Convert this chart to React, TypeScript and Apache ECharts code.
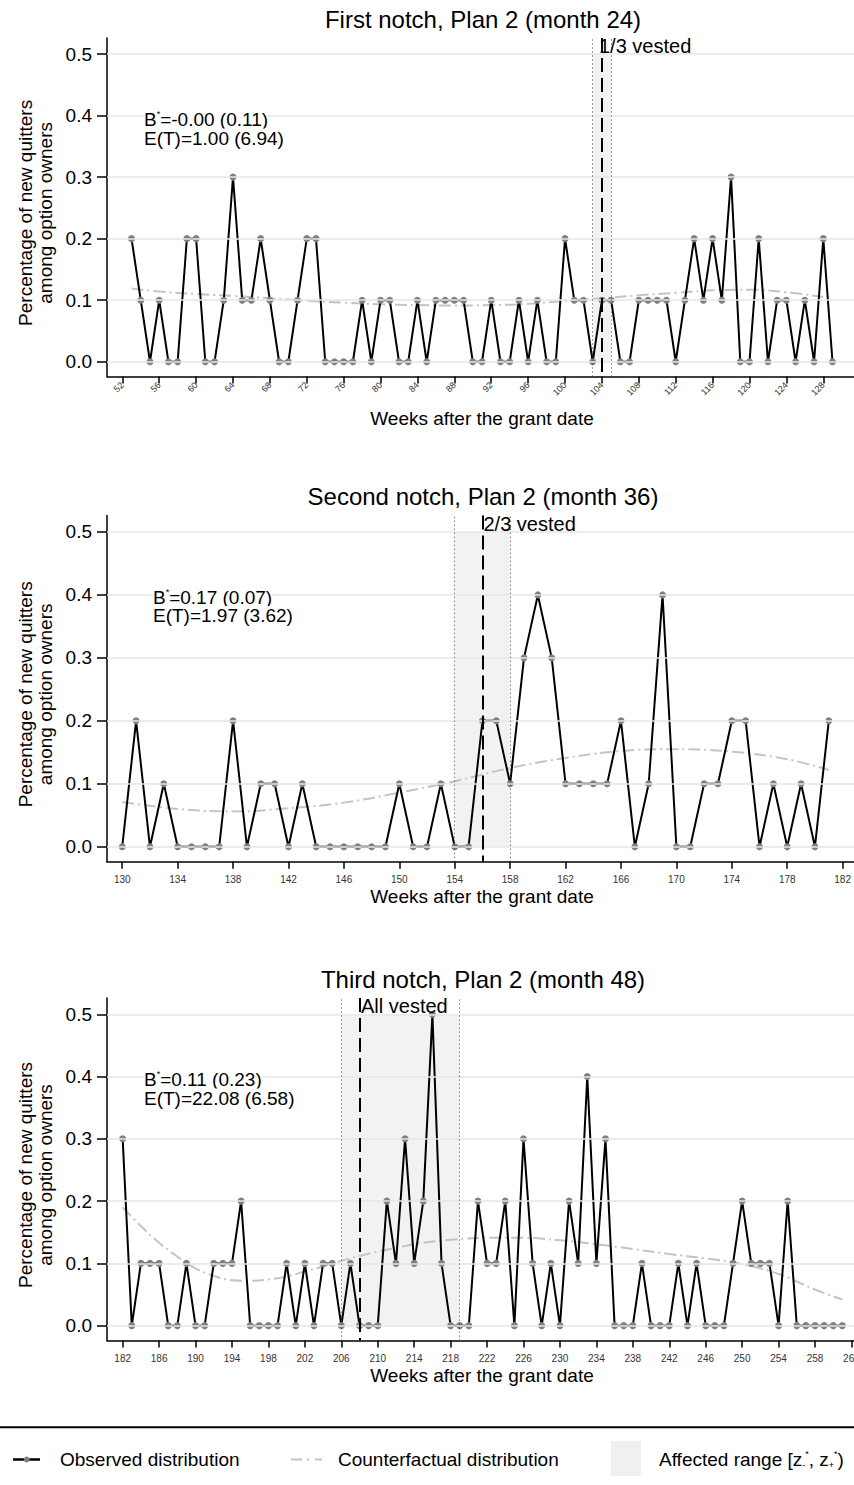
import React, { useEffect, useRef } from "react";
import * as echarts from "echarts";

const FONT = '"Liberation Sans", Arial, Helvetica, sans-serif';

// ---------- data ----------
const panelTitles = [
  "First notch, Plan 2 (month 24)",
  "Second notch, Plan 2 (month 36)",
  "Third notch, Plan 2 (month 48)",
];
const vestLabels = ["1/3 vested", "2/3 vested", "All vested"];
const statB = ["-0.00 (0.11)", "0.17 (0.07)", "0.11 (0.23)"];
const statE = ["1.00 (6.94)", "1.97 (3.62)", "22.08 (6.58)"];
const vestWeeks = [104, 156, 208];
const affectedRanges = [
  [103, 105],
  [154, 158],
  [206, 219],
];

const obs1Start = 53;
const obs1Values = [
  0.2, 0.1, 0, 0.1, 0, 0, 0.2, 0.2, 0, 0,
  0.1, 0.3, 0.1, 0.1, 0.2, 0.1, 0, 0, 0.1, 0.2,
  0.2, 0, 0, 0, 0, 0.1, 0, 0.1, 0.1, 0,
  0, 0.1, 0, 0.1, 0.1, 0.1, 0.1, 0, 0, 0.1,
  0, 0, 0.1, 0, 0.1, 0, 0, 0.2, 0.1, 0.1,
  0, 0.1, 0.1, 0, 0, 0.1, 0.1, 0.1, 0.1, 0,
  0.1, 0.2, 0.1, 0.2, 0.1, 0.3, 0, 0, 0.2, 0,
  0.1, 0.1, 0, 0.1, 0, 0.2, 0,
];
const obs2Start = 130;
const obs2Values = [
  0, 0.2, 0, 0.1, 0, 0, 0, 0, 0.2, 0,
  0.1, 0.1, 0, 0.1, 0, 0, 0, 0, 0, 0,
  0.1, 0, 0, 0.1, 0, 0, 0.2, 0.2, 0.1, 0.3,
  0.4, 0.3, 0.1, 0.1, 0.1, 0.1, 0.2, 0, 0.1, 0.4,
  0, 0, 0.1, 0.1, 0.2, 0.2, 0, 0.1, 0, 0.1,
  0, 0.2,
];
const obs3Start = 182;
const obs3Values = [
  0.3, 0, 0.1, 0.1, 0.1, 0, 0, 0.1, 0, 0,
  0.1, 0.1, 0.1, 0.2, 0, 0, 0, 0, 0.1, 0,
  0.1, 0, 0.1, 0.1, 0, 0.1, 0, 0, 0, 0.2,
  0.1, 0.3, 0.1, 0.2, 0.5, 0.1, 0, 0, 0, 0.2,
  0.1, 0.1, 0.2, 0, 0.3, 0.1, 0, 0.1, 0, 0.2,
  0.1, 0.4, 0.1, 0.3, 0, 0, 0, 0.1, 0, 0,
  0, 0.1, 0, 0.1, 0, 0, 0, 0.1, 0.2, 0.1,
  0.1, 0.1, 0, 0.2, 0, 0, 0, 0, 0, 0,
];

const cf1Weeks = [53, 56, 60, 64, 68, 72, 76, 80, 84, 88, 92, 96, 100, 104, 108, 112, 116, 120, 124, 128];
const cf1Values = [0.119, 0.114, 0.11, 0.107, 0.103, 0.099, 0.096, 0.0935, 0.092, 0.0914, 0.092, 0.094, 0.099, 0.103, 0.108, 0.112, 0.116, 0.117, 0.113, 0.105];
const cf2Weeks = [130, 134, 138, 142, 146, 150, 154, 158, 162, 166, 170, 174, 178, 181];
const cf2Values = [0.071, 0.06, 0.056, 0.061, 0.07, 0.086, 0.104, 0.125, 0.141, 0.152, 0.155, 0.151, 0.139, 0.122];
const cf3Weeks = [182, 184, 186, 188, 190, 192, 194, 196, 198, 200, 202, 204, 206, 208, 210, 212, 214, 216, 218, 222, 226, 230, 234, 238, 242, 246, 250, 254, 258, 261];
const cf3Values = [0.19, 0.16, 0.133, 0.111, 0.092, 0.08, 0.073, 0.072, 0.074, 0.079, 0.087, 0.095, 0.104, 0.112, 0.119, 0.125, 0.131, 0.135, 0.138, 0.141, 0.141, 0.137, 0.131, 0.123, 0.115, 0.108, 0.099, 0.083, 0.058, 0.042];

const xTicks1 = [52, 56, 60, 64, 68, 72, 76, 80, 84, 88, 92, 96, 100, 104, 108, 112, 116, 120, 124, 128];
const xTicks2 = [130, 134, 138, 142, 146, 150, 154, 158, 162, 166, 170, 174, 178, 182];
const xTicks3 = [182, 186, 190, 194, 198, 202, 206, 210, 214, 218, 222, 226, 230, 234, 238, 242, 246, 250, 254, 258, 262];
const yTicks = [0, 0.1, 0.2, 0.3, 0.4, 0.5];

const obsStarts = [obs1Start, obs2Start, obs3Start];
const obsValues = [obs1Values, obs2Values, obs3Values];
const cfWeeks = [cf1Weeks, cf2Weeks, cf3Weeks];
const cfValues = [cf1Values, cf2Values, cf3Values];
const xTicks = [xTicks1, xTicks2, xTicks3];

// ---------- layout ----------
const Y_MIN = -0.024;
const Y_MAX = 0.526;
const layout = [
  { top: 38, height: 338.5, xMin: 50.34, xMax: 131.33, rotate: 45, labelSize: 9, labelMargin: 7, xNameDy: 41.5, statX: 144, vestX: 599 },
  { top: 515.6, height: 346.2, xMin: 128.9, xMax: 182.82, rotate: 0, labelSize: 10, labelMargin: 13, xNameDy: 35, statX: 153, vestX: 483.5 },
  { top: 998.1, height: 342.5, xMin: 180.28, xMax: 262.28, rotate: 0, labelSize: 10, labelMargin: 13, xNameDy: 35, statX: 144, vestX: 361 },
];
const GRID_LEFT = 107;
const W = 854;
const H = 1485;

function buildOption() {
  const grids: any[] = [];
  const xAxes: any[] = [];
  const yAxes: any[] = [];
  const series: any[] = [];
  const graphic: any[] = [];
  const axisLineStyle = { color: "#000", width: 1.5 };

  layout.forEach((L, i) => {
    grids.push({ left: GRID_LEFT, right: 0, top: L.top, height: L.height, outerBoundsMode: "none", containLabel: false });
    xAxes.push({
      gridIndex: i,
      type: "value",
      min: L.xMin,
      max: L.xMax,
      axisLine: { show: true, onZero: false, lineStyle: axisLineStyle },
      axisTick: { show: true, customValues: xTicks[i], length: 7, lineStyle: axisLineStyle },
      axisLabel: {
        show: true,
        customValues: xTicks[i],
        rotate: L.rotate,
        fontSize: L.labelSize,
        color: "#333",
        fontFamily: FONT,
        margin: L.labelMargin,
        formatter: (v: number) => String(v),
      },
      splitLine: { show: false },
    });
    yAxes.push({
      gridIndex: i,
      type: "value",
      min: Y_MIN,
      max: Y_MAX,
      axisLine: { show: true, onZero: false, lineStyle: axisLineStyle },
      axisTick: { show: true, customValues: yTicks, length: 10, lineStyle: axisLineStyle },
      axisLabel: {
        show: true,
        customValues: yTicks,
        fontSize: 19,
        color: "#000",
        fontFamily: FONT,
        margin: 15,
        formatter: (v: number) => v.toFixed(1),
      },
      splitLine: { show: false },
    });

    // gridlines
    series.push({
      type: "line",
      xAxisIndex: i,
      yAxisIndex: i,
      data: [],
      silent: true,
      z: 1,
      markLine: {
        silent: true,
        symbol: ["none", "none"],
        label: { show: false },
        lineStyle: { color: "#e6e6e6", width: 1.5, type: "solid" },
        data: yTicks.map((v) => ({ yAxis: v })),
      },
    });

    const [a, b] = affectedRanges[i];
    const v = vestWeeks[i];
    const dotted = { type: [1, 3], color: "#444", width: 1 };
    series.push({
      type: "line",
      xAxisIndex: i,
      yAxisIndex: i,
      data: [],
      silent: true,
      clip: false,
      z: 2,
      markArea: {
        silent: true,
        itemStyle: { color: "#f2f2f2" },
        label: { show: false },
        data: [[{ coord: [a, 0] }, { coord: [b, 0.5] }]],
      },
      markLine: {
        silent: true,
        symbol: ["none", "none"],
        label: { show: false },
        data: [
          [{ coord: [a, Y_MIN], lineStyle: dotted }, { coord: [a, Y_MAX] }],
          [{ coord: [b, Y_MIN], lineStyle: dotted }, { coord: [b, Y_MAX] }],
          [
            { coord: [v, Y_MAX], lineStyle: { type: [14, 6], color: "#000", width: 2 } },
            { coord: [v, Y_MIN] },
          ],
        ],
      },
    });

    // counterfactual
    series.push({
      type: "line",
      name: "Counterfactual distribution",
      xAxisIndex: i,
      yAxisIndex: i,
      data: cfWeeks[i].map((w, k) => [w, cfValues[i][k]]),
      smooth: 0.4,
      symbol: "none",
      lineStyle: { color: "#c4c4c4", width: 2, type: [12, 4, 2, 4] },
      z: 3,
      silent: true,
    });

    // observed
    series.push({
      type: "line",
      name: "Observed distribution",
      xAxisIndex: i,
      yAxisIndex: i,
      data: obsValues[i].map((val, k) => [obsStarts[i] + k, val]),
      symbol: "circle",
      symbolSize: 7,
      showSymbol: true,
      itemStyle: { color: "#808080", borderWidth: 0 },
      lineStyle: { color: "#000", width: 2 },
      z: 4,
      silent: true,
    });

    const bottom = L.top + L.height;
    // panel title
    graphic.push({
      type: "text",
      x: 483,
      y: L.top - 19,
      style: { text: panelTitles[i], fontSize: 24, fontFamily: FONT, fill: "#000", align: "center", verticalAlign: "middle" },
    });
    // x axis title
    graphic.push({
      type: "text",
      x: 482,
      y: bottom + L.xNameDy,
      style: { text: "Weeks after the grant date", fontSize: 19, fontFamily: FONT, fill: "#000", align: "center", verticalAlign: "middle" },
    });
    // y axis title
    graphic.push({
      type: "text",
      x: 35,
      y: L.top + L.height * ((Y_MAX - 0.25) / (Y_MAX - Y_MIN)) + 5,
      rotation: Math.PI / 2,
      style: {
        text: "Percentage of new quitters\namong option owners",
        fontSize: 19,
        lineHeight: 20,
        fontFamily: FONT,
        fill: "#000",
        align: "center",
        verticalAlign: "middle",
      },
    });
    // vested label
    graphic.push({
      type: "text",
      x: L.vestX,
      y: L.top + 8,
      z: 10,
      style: { text: vestLabels[i], fontSize: 20, fontFamily: FONT, fill: "#000", align: "left", verticalAlign: "middle" },
    });
    // stats
    graphic.push({
      type: "text",
      x: L.statX,
      y: L.top + 81.5,
      z: 10,
      style: {
        text: "{a|B}{s|*}{a|=" + statB[i] + "}",
        align: "left",
        verticalAlign: "middle",
        backgroundColor: "#fff",
        rich: {
          a: { fontSize: 19, fontFamily: FONT, fill: "#000", color: "#000", lineHeight: 20 },
          s: { fontSize: 9, fontFamily: FONT, fill: "#000", color: "#000", verticalAlign: "top", lineHeight: 9 },
        },
      },
    });
    graphic.push({
      type: "text",
      x: L.statX,
      y: L.top + 100,
      z: 10,
      style: { text: "E(T)=" + statE[i], fontSize: 19, fontFamily: FONT, fill: "#000", align: "left", verticalAlign: "middle", backgroundColor: "#fff" },
    });
  });

  // legend
  const ly = 1459.5;
  graphic.push(
    { type: "line", shape: { x1: 0, y1: 1427.3, x2: W, y2: 1427.3 }, style: { stroke: "#000", lineWidth: 2 } },
    { type: "line", shape: { x1: 13, y1: ly, x2: 40, y2: ly }, style: { stroke: "#000", lineWidth: 2.5 } },
    { type: "circle", shape: { cx: 26.7, cy: ly, r: 3 }, style: { fill: "#808080" } },
    { type: "text", x: 60, y: ly, style: { text: "Observed distribution", fontSize: 19, fontFamily: FONT, fill: "#000", align: "left", verticalAlign: "middle" } },
    { type: "line", shape: { x1: 291, y1: ly, x2: 322, y2: ly }, style: { stroke: "#c4c4c4", lineWidth: 2, lineDash: [11, 5, 2, 6] } },
    { type: "text", x: 338, y: ly, style: { text: "Counterfactual distribution", fontSize: 19, fontFamily: FONT, fill: "#000", align: "left", verticalAlign: "middle" } },
    { type: "rect", shape: { x: 611, y: 1441, width: 30, height: 35 }, style: { fill: "#f0f0f0" } },
    {
      type: "text",
      x: 659,
      y: ly,
      style: {
        text: "{a|Affected range [z}{b|-}{s|*}{a|, z}{b|+}{s|*}{a|)}",
        align: "left",
        verticalAlign: "middle",
        rich: {
          a: { fontSize: 19, fontFamily: FONT, fill: "#000", color: "#000", lineHeight: 20 },
          s: { fontSize: 9, fontFamily: FONT, fill: "#000", color: "#000", verticalAlign: "top", lineHeight: 9 },
          b: { fontSize: 9, fontFamily: FONT, fill: "#000", color: "#000", verticalAlign: "bottom", lineHeight: 9 },
        },
      },
    }
  );

  return {
    animation: false,
    backgroundColor: "#fff",
    textStyle: { fontFamily: FONT },
    grid: grids,
    xAxis: xAxes,
    yAxis: yAxes,
    series,
    graphic,
  };
}

export default function App() {
  const ref = useRef<HTMLDivElement>(null);
  useEffect(() => {
    document.body.style.margin = "0";
    if (!ref.current) return;
    const chart = echarts.init(ref.current, null, { renderer: "svg" });
    chart.setOption(buildOption() as any);
    return () => chart.dispose();
  }, []);
  return <div ref={ref} style={{ width: W, height: H }} />;
}
